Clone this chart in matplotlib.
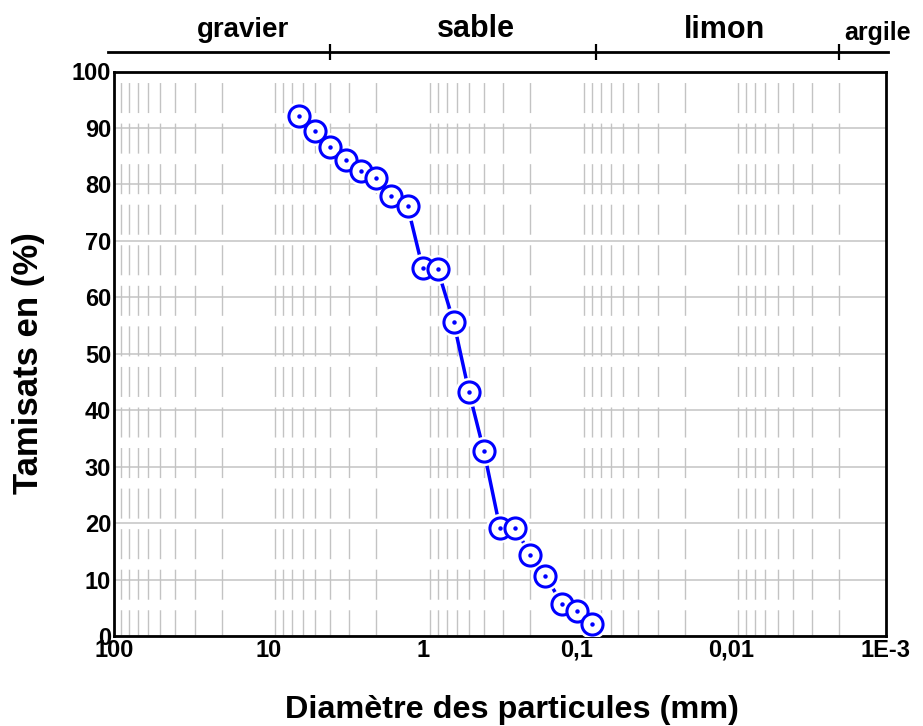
import numpy as np
import matplotlib
matplotlib.use("Agg")
import matplotlib.pyplot as plt
from matplotlib import ticker, transforms

# Courbe granulométrique : tamisats cumulés en fonction du diamètre
diametres = [6.3, 5, 4, 3.15, 2.5, 2, 1.6, 1.25, 1, 0.8,
             0.63, 0.5, 0.4, 0.315, 0.25, 0.2, 0.16, 0.125, 0.1, 0.08]
tamisats = [92.2, 89.5, 86.6, 84.3, 82.4, 81.1, 77.9, 76.1, 65.2, 65.0,
            55.7, 43.2, 32.7, 19.1, 19.1, 14.3, 10.7, 5.7, 4.5, 2.2]

x_ticks = [100, 10, 1, 0.1, 0.01, 0.001]
x_labels = ["100", "10", "1", "0,1", "0,01", "1E-3"]
y_ticks = list(range(0, 101, 10))

# classes de sols (limites en mm) pour l'axe du haut
classes = ["gravier", "sable", "limon", "argile"]
limites = [4, 0.075, 0.002]
pos_classes = [14.6, 0.454, 0.0111, 0.00185]
taille_classes = [20, 22, 22, 18]
ha_classes = ["center", "center", "center", "left"]
base_classes = [36.7, 36.7, 38, 40]

FONT = "Liberation Sans"
GRIS = "#c3c3c3"
BLEU = "#0000ff"

W, H = 923, 726
fig = plt.figure(figsize=(W / 100, H / 100), dpi=100)


def fx(px):
    return px / W


def fy(py):
    return 1 - py / H


x0, x1, ytop, ybot = 114, 885.5, 71.5, 636
ax = fig.add_axes([fx(x0), fy(ybot), fx(x1) - fx(x0), fy(ytop) - fy(ybot)])
ax.set_xscale("log")
ax.set_xlim(100, 0.001)
ax.set_ylim(0, 100)

# grille : horizontales pleines, verticales pointillées aux sous-décades
ax.set_yticks(y_ticks)
ax.yaxis.grid(True, color=GRIS, lw=1.1)
ax.set_axisbelow(True)
mineurs = [k * 10.0 ** e for e in range(-3, 2) for k in range(2, 10)]
ax.vlines(mineurs, 100, 0, colors=GRIS, lw=1.0,
          linestyles=[(21.6, (21.6, 7.6))], zorder=0.5)

ax.xaxis.set_major_locator(ticker.FixedLocator(x_ticks))
ax.xaxis.set_major_formatter(ticker.FixedFormatter(x_labels))
ax.xaxis.set_minor_locator(ticker.NullLocator())
ax.tick_params(axis="both", length=0, labelsize=17)
ax.tick_params(axis="x", pad=2)
ax.tick_params(axis="y", pad=2)
for lab in ax.get_xticklabels() + ax.get_yticklabels():
    lab.set_fontfamily(FONT)
    lab.set_fontweight("bold")
for s in ax.spines.values():
    s.set_linewidth(2)
    s.set_color("black")

# courbe + cercles ouverts avec un point au centre
ax.plot(diametres, tamisats, color=BLEU, lw=2.5, zorder=3)
ax.plot(diametres, tamisats, ls="none", marker="o", ms=20,
        mfc="white", mec="white", zorder=4)
ax.plot(diametres, tamisats, ls="none", marker="o", ms=15.2,
        mfc="white", mec=BLEU, mew=2.2, zorder=5)
ax.plot(diametres, tamisats, ls="none", marker="o", ms=2.2,
        mfc=BLEU, mec=BLEU, zorder=6)

# axe des classes de sols au-dessus du graphique
dec = (x1 - x0) / 5
c0, c1 = 108, 888
ax2 = fig.add_axes([fx(c0), fy(52), fx(c1) - fx(c0), 0.0001])
ax2.set_xscale("log")
ax2.set_xlim(10 ** (2 + (x0 - c0) / dec), 10 ** (2 - (c1 - x0) / dec))
ax2.patch.set_visible(False)
for k in ["top", "left", "right"]:
    ax2.spines[k].set_visible(False)
ax2.spines["bottom"].set_linewidth(2)
ax2.set_yticks([])
ax2.xaxis.set_major_locator(ticker.FixedLocator(limites))
ax2.xaxis.set_minor_locator(ticker.NullLocator())
ax2.tick_params(axis="x", direction="inout", length=11.5, width=1.6,
                labelbottom=False)

trans = transforms.blended_transform_factory(ax2.transData, fig.transFigure)
for nom, pos, taille, ha, base in zip(classes, pos_classes, taille_classes,
                                      ha_classes, base_classes):
    ax2.text(pos, fy(base), nom, transform=trans, ha=ha, va="baseline",
             fontsize=taille, fontweight="bold", family=FONT)

fig.text(fx(511.7), fy(718), "Diamètre des particules (mm)", ha="center",
         va="baseline", fontsize=23.3, fontweight="bold", family=FONT)
fig.text(fx(29), fy(363), "Tamisats en (%)", rotation=90, ha="center",
         va="center", fontsize=25, fontweight="bold", family=FONT)

fig.savefig("out.png", dpi=100)
